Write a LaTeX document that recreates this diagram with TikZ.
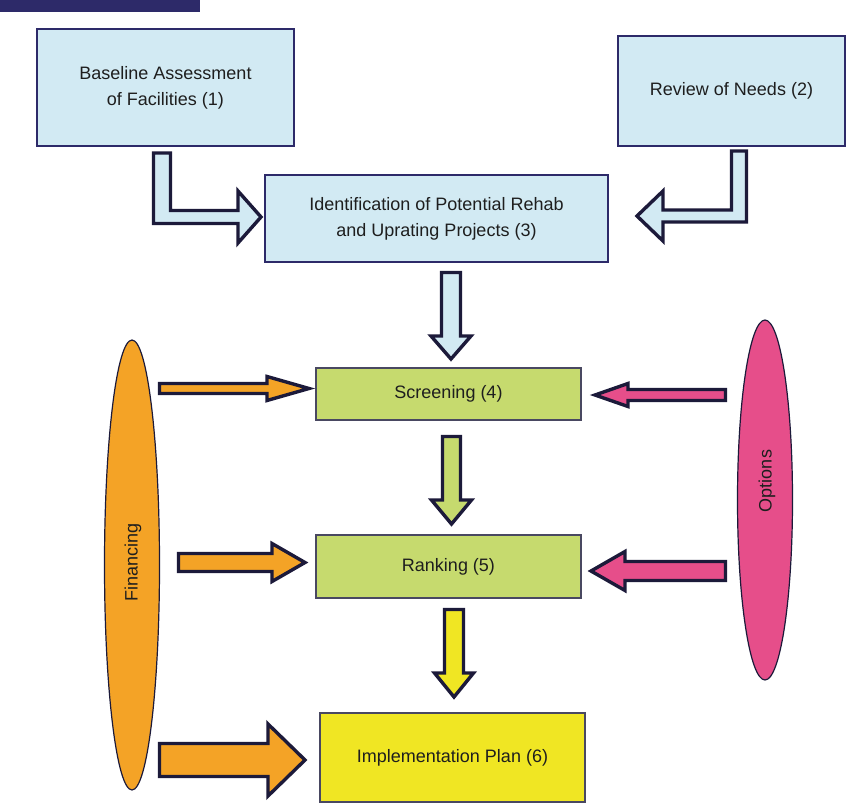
\documentclass[tikz,border=0pt]{standalone}
\usepackage{fontspec}
\setmainfont{Liberation Sans}
\usetikzlibrary{calc,shapes.geometric}
\definecolor{navy}{RGB}{45,42,105}
\definecolor{darknavy}{RGB}{28,26,58}
\definecolor{lblue}{RGB}{210,234,243}
\definecolor{lgreen}{RGB}{198,218,110}
\definecolor{lyellow}{RGB}{240,230,35}
\definecolor{orng}{RGB}{244,163,38}
\definecolor{pnk}{RGB}{230,78,138}
\definecolor{txt}{RGB}{30,30,30}
\tikzset{
  boxtext/.style={text=txt, font=\fontsize{18}{26}\selectfont, align=center, inner sep=0pt},
  bluebox/.style={boxtext, draw=navy, line width=1.6pt, fill=lblue},
  greenbox/.style={boxtext, draw=darknavy!80, line width=1.2pt, fill=lgreen},
  yellowbox/.style={boxtext, draw=darknavy!80, line width=1.2pt, fill=lyellow},
  oval/.style={ellipse, draw=darknavy, line width=1.2pt, inner sep=0pt},
  blk/.style={draw=darknavy, line width=3.4pt, line join=miter},
}
% vertical (downward) block arrow: start, tip, shaft half, head half, head length, colour
\newcommand\vblk[6]{\draw[blk, fill=#6] let \p1=(#1), \p2=(#2) in
  (\x1-#3pt,\y1) -- (\x1+#3pt,\y1) -- (\x1+#3pt,\y2+#5pt) -- (\x1+#4pt,\y2+#5pt)
  -- (\x2,\y2) -- (\x1-#4pt,\y2+#5pt) -- (\x1-#3pt,\y2+#5pt) -- cycle;}
% rightward block arrow
\newcommand\rblk[6]{\draw[blk, fill=#6] let \p1=(#1), \p2=(#2) in
  (\x1,\y1+#3pt) -- (\x2-#5pt,\y1+#3pt) -- (\x2-#5pt,\y1+#4pt) -- (\x2,\y2)
  -- (\x2-#5pt,\y1-#4pt) -- (\x2-#5pt,\y1-#3pt) -- (\x1,\y1-#3pt) -- cycle;}
% leftward block arrow
\newcommand\lblk[6]{\draw[blk, fill=#6] let \p1=(#1), \p2=(#2) in
  (\x1,\y1+#3pt) -- (\x2+#5pt,\y1+#3pt) -- (\x2+#5pt,\y1+#4pt) -- (\x2,\y2)
  -- (\x2+#5pt,\y1-#4pt) -- (\x2+#5pt,\y1-#3pt) -- (\x1,\y1-#3pt) -- cycle;}
\begin{document}
\begin{tikzpicture}[x=1pt,y=-1pt]
\useasboundingbox[fill=white] (0,0) rectangle (846,806);
\fill[navy] (0,0) rectangle (200,12);

% boxes
\node[bluebox, minimum width=257pt, minimum height=117pt] (b1) at (165.5,87.5)
  {Baseline Assessment\\of Facilities (1)};
\node[bluebox, minimum width=227pt, minimum height=110pt] (b2) at (731.5,91)
  {Review of Needs (2)};
\node[bluebox, minimum width=343pt, minimum height=87pt] (b3) at (436.5,218.5)
  {Identification of Potential Rehab\\and Uprating Projects (3)};
\node[greenbox, minimum width=265pt, minimum height=52pt] (scr) at (448.5,394)
  {Screening (4)};
\node[greenbox, minimum width=265pt, minimum height=63pt] (rank) at (448.5,566.5)
  {Ranking (5)};
\node[yellowbox, minimum width=265pt, minimum height=89pt] (impl) at (452.5,757.5)
  {Implementation Plan (6)};

% side ovals
\node[oval, fill=orng, minimum width=55pt, minimum height=450pt] (fin) at (132,565) {};
\node[boxtext, rotate=90] (fintext) at (133,562) {Financing};
\node[oval, fill=pnk, minimum width=55pt, minimum height=360pt] (opt) at (765,500) {};
\node[boxtext, rotate=90] (opttext) at (767,481) {Options};

% elbow arrows into box 3
\draw[blk, fill=lblue] (153.5,153) -- (170.5,153) -- (170.5,210.5) -- (238,210.5)
  -- (238,191) -- (261,217) -- (238,243) -- (238,223.5) -- (153.5,223.5) -- cycle;
\draw[blk, fill=lblue] (746.5,151) -- (731.5,151) -- (731.5,210) -- (663,210)
  -- (663,191) -- (637,216) -- (663,241) -- (663,222) -- (746.5,222) -- cycle;

% connector end points
\coordinate (v1s) at (451,272.5);   \coordinate (v1t) at (451,359);
\coordinate (v2s) at (451.5,436.5); \coordinate (v2t) at (451.5,524);
\coordinate (v3s) at (454,609.5);   \coordinate (v3t) at (454,697);
\coordinate (o1s) at (159.5,388.5); \coordinate (o1t) at (309,388.5);
\coordinate (o2s) at (178.5,562.5); \coordinate (o2t) at (305,562.5);
\coordinate (o3s) at (159.5,760);   \coordinate (o3t) at (305,760);
\coordinate (p1s) at (725.5,395);   \coordinate (p1t) at (595,395);
\coordinate (p2s) at (725.5,571);   \coordinate (p2t) at (591,571);

% vertical arrows
\vblk{v1s}{v1t}{9.5}{20}{23}{lblue}
\vblk{v2s}{v2t}{9}{20}{24}{lgreen}
\vblk{v3s}{v3t}{9.5}{19.5}{24}{lyellow}

% financing arrows
\rblk{o1s}{o1t}{5}{12}{42}{orng}
\rblk{o2s}{o2t}{9}{19}{33}{orng}
\rblk{o3s}{o3t}{16.5}{36}{37}{orng}

% options arrows
\lblk{p1s}{p1t}{5.5}{11.5}{33}{pnk}
\lblk{p2s}{p2t}{9.5}{19.5}{34}{pnk}
\end{tikzpicture}
\end{document}
